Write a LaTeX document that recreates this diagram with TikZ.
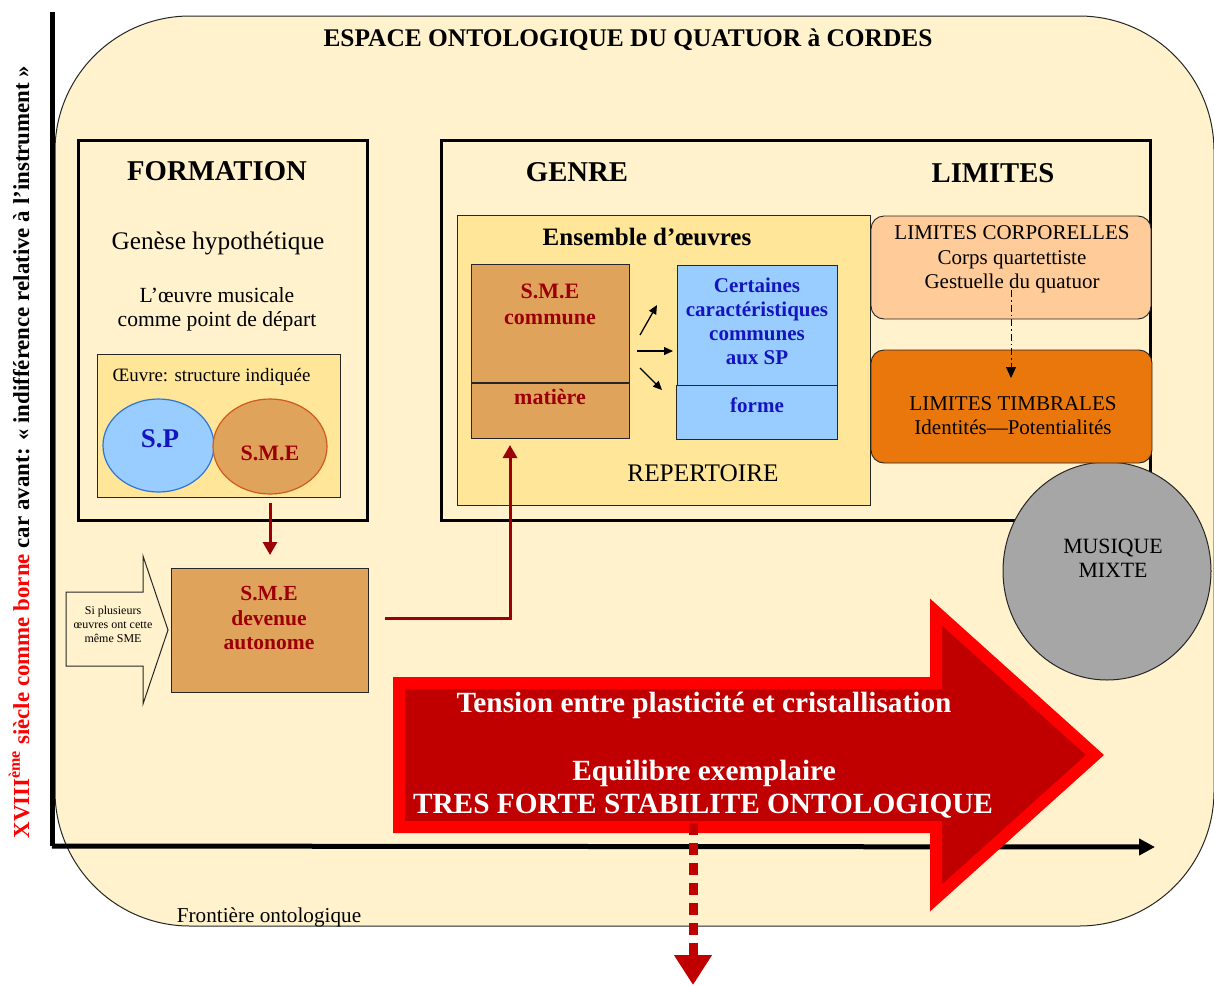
\documentclass[tikz,border=0pt]{standalone}
\usepackage{fontspec}
\setmainfont{Liberation Serif}
\usetikzlibrary{arrows.meta,calc,shapes.geometric}
\definecolor{cream}{HTML}{FFF2CC}
\definecolor{lyellow}{HTML}{FFE699}
\definecolor{tan}{HTML}{E0A35B}
\definecolor{dred}{HTML}{9C0006}
\definecolor{lblue}{HTML}{99CCFF}
\definecolor{tblue}{HTML}{1515C0}
\definecolor{peach}{HTML}{FFCC99}
\definecolor{orng}{HTML}{E9770B}
\definecolor{mgray}{HTML}{A6A6A6}
\definecolor{bred}{HTML}{FF0000}
\definecolor{cred}{HTML}{C00000}
\definecolor{ellblue}{HTML}{2E75D6}
\definecolor{ellred}{HTML}{D05A1E}
\newcommand{\fsz}[2]{\fontsize{#1}{#2}\selectfont}
\begin{document}
\begin{tikzpicture}[x=1pt,y=-1pt,
  box/.style={draw=black!85, line width=0.9pt, anchor=north west, inner sep=0pt, outer sep=0pt},
  bigbox/.style={draw=black, line width=3pt, anchor=north west, inner sep=0pt, outer sep=0pt},
  lbl/.style={inner sep=0pt, anchor=base},
  ttl/.style={lbl, font=\bfseries\fsz{28.7}{32}},
  reg/.style={lbl, font=\fsz{21}{24}},
  redb/.style={lbl, font=\bfseries\fsz{22}{26}, text=dred},
  blueb/.style={lbl, font=\bfseries\fsz{21}{24}, text=tblue},
  whiteb/.style={lbl, font=\bfseries\fsz{29.3}{32}, text=white},
  darrow/.style={draw=dred, line width=3pt, -{Triangle[length=13pt,width=14pt]}},
  smallarrow/.style={draw=black, line width=1.3pt, -{Triangle[length=9pt,width=8pt]}},
  axis/.style={draw=black, line width=5pt}
]
\useasboundingbox (0,0) rectangle (1214,985);

% background space
\node[box, fill=cream, draw=black!85, line width=1pt, rounded corners=135pt,
      minimum width=1159pt, minimum height=910pt] (espace) at (55,16) {};

% axes
\coordinate (ytop) at (52,12);
\coordinate (origin) at (52,846);
\coordinate (xend) at (1155,847);
\draw[axis] (ytop) -- (origin);
\draw[axis, -{Triangle[length=16pt,width=16pt]}] (origin) -- (xend);

% title
\node[lbl, font=\bfseries\fsz{25.4}{28}] (title) at (628,46) {ESPACE ONTOLOGIQUE DU QUATUOR à CORDES};

% vertical side text
\node[lbl, rotate=90, font=\bfseries\fsz{22.9}{26}] (side) at (29,452)
  {\textcolor{bred}{XVIII\textsuperscript{ème} siècle comme borne} car avant: « indifférence relative à l’instrument »};

% FORMATION
\node[bigbox, minimum width=289pt, minimum height=380pt] (formation) at (78,140) {};
\node[ttl] (formtitle) at (217,180) {FORMATION};
\node[lbl, font=\fsz{25.3}{28}] (genese) at (218,249) {Genèse hypothétique};
\node[lbl, font=\fsz{21.6}{24}] (point1) at (217,302) {L’œuvre musicale};
\node[lbl, font=\fsz{21.6}{24}] (point2) at (217,326) {comme point de départ};
\node[box, fill=lyellow, minimum width=243pt, minimum height=143pt] (oeuvre) at (97,354) {};
\node[lbl, font=\fsz{18.9}{22}] (oeuvretxt) at (211.5,381) {Œuvre: structure indiquée};
\node[ellipse, draw=ellblue, line width=1.2pt, fill=lblue, minimum width=111pt, minimum height=93pt, inner sep=0pt] (sp) at (158.5,445.5) {};
\node[ellipse, draw=ellred, line width=1.2pt, fill=tan, minimum width=114pt, minimum height=95pt, inner sep=0pt] (smeell) at (270,446.5) {};
\node[lbl, font=\bfseries\fsz{27}{30}, text=tblue] (sptxt) at (160,447) {S.P};
\node[redb] (smetxt) at (270,460) {S.M.E};

% S.M.E devenue autonome
\node[box, fill=tan, minimum width=197pt, minimum height=124pt] (autonome) at (171,568) {};
\node[redb, font=\bfseries\fsz{21.5}{24}] (aut1) at (269,600) {S.M.E};
\node[redb, font=\bfseries\fsz{21.5}{24}] (aut2) at (269,625) {devenue};
\node[redb, font=\bfseries\fsz{21.5}{24}] (aut3) at (269,649) {autonome};
\draw[darrow] ([yshift=-6pt]oeuvre.south -| smeell.south) -- ([yshift=13pt]autonome.north -| smeell.south);

% "Si plusieurs" block arrow
\draw[draw=black!85, line width=1pt, fill=cream]
  (66,592) -- (143,592) -- (143,556) -- (168,630) -- (143,704) -- (143,666) -- (66,666) -- cycle;
\node[lbl, font=\fsz{12}{14}] (si1) at (113,614) {Si plusieurs};
\node[lbl, font=\fsz{12}{14}] (si2) at (113,628) {œuvres ont cette};
\node[lbl, font=\fsz{12}{14}] (si3) at (113,642) {même SME};

% GENRE / LIMITES
\node[bigbox, minimum width=709pt, minimum height=380pt] (genre) at (441,140) {};
\node[ttl] (genretitle) at (577,181) {GENRE};
\node[ttl] (limtitle) at (993,182) {LIMITES};
\node[box, fill=lyellow, minimum width=413pt, minimum height=290pt] (ensemble) at (457,215) {};
\node[lbl, font=\bfseries\fsz{25}{28}] (enstxt) at (647,245) {Ensemble d’œuvres};
\node[lbl, font=\fsz{25.3}{28}] (repert) at (703,481) {REPERTOIRE};
\node[box, fill=tan, minimum width=158pt, minimum height=118pt] (smec) at (471,264) {};
\node[box, fill=tan, minimum width=158pt, minimum height=55pt] (matiere) at (471,383) {};
\node[redb] (smec1) at (550,298) {S.M.E};
\node[redb] (smec2) at (550,324) {commune};
\node[redb] (mattxt) at (550,404) {matière};
\node[box, fill=lblue, minimum width=160pt, minimum height=120pt] (cert) at (677,265) {};
\node[box, fill=lblue, minimum width=161pt, minimum height=54pt] (forme) at (676,385) {};
\node[blueb] (c1) at (757,292) {Certaines};
\node[blueb] (c2) at (757,316) {caractéristiques};
\node[blueb] (c3) at (757,340) {communes};
\node[blueb] (c4) at (757,364) {aux SP};
\node[blueb] (formetxt) at (757,412) {forme};
\draw[smallarrow] ([xshift=11pt,yshift=-12pt]smec.east) -- ([xshift=-20pt,yshift=20pt]cert.west);
\draw[smallarrow] ([xshift=8pt,yshift=-28pt]smec.east) -- ([xshift=-4pt,yshift=-26pt]cert.west);
\draw[smallarrow] ([xshift=11pt,yshift=-45pt]smec.east) -- ([xshift=-15pt,yshift=-65pt]cert.west);
\draw[darrow] ([xshift=17pt,yshift=12pt]autonome.east) -| ([xshift=-40pt,yshift=-7pt]matiere.south);

% MUSIQUE MIXTE
\node[ellipse, draw=black!85, line width=1pt, fill=mgray, minimum width=208pt, minimum height=218pt, inner sep=0pt] (mixte) at (1107,571) {};
\node[lbl, font=\fsz{21.8}{24}] (mix1) at (1113,553) {MUSIQUE};
\node[lbl, font=\fsz{21.8}{24}] (mix2) at (1113,577) {MIXTE};

% LIMITES boxes
\node[box, fill=peach, rounded corners=13pt, minimum width=280pt, minimum height=103pt] (lc) at (871,216) {};
\node[box, fill=orng, rounded corners=13pt, minimum width=281pt, minimum height=113pt] (lt) at (871,350) {};
\node[reg] (lc1) at (1012,239) {LIMITES CORPORELLES};
\node[reg] (lc2) at (1012,264) {Corps quartettiste};
\node[reg] (lc3) at (1012,288) {Gestuelle du quatuor};
\node[reg] (lt1) at (1013,410) {LIMITES TIMBRALES};
\node[reg] (lt2) at (1013,434) {Identités—Potentialités};
\draw[line width=1pt, dash pattern=on 7pt off 3pt on 1.5pt off 3pt, -{Triangle[length=11pt,width=10pt]}]
  ([yshift=-74pt]lc.north) -- ([yshift=-28pt]lt.north -| lc.north);

% big red arrow
\draw[draw=bred, fill=cred, line width=12pt, miter limit=10]
  (399,683) -- (936,683) -- (936,612) -- (1095,755) -- (936,898) -- (936,827) -- (399,827) -- cycle;
\node[whiteb] (tension) at (704,712) {Tension entre plasticité et cristallisation};
\node[whiteb] (equil) at (704,780) {Equilibre exemplaire};
\node[whiteb] (stab) at (703,813) {TRES FORTE STABILITE ONTOLOGIQUE};
\coordinate (down) at (693,985);
\draw[draw=cred, line width=9pt, dash pattern=on 12pt off 8pt, -{Triangle[length=30pt,width=36pt]}]
  ([yshift=-10pt]stab.base -| down) -- (down);

% frontier label
\node[lbl, font=\fsz{21.2}{24}] (frontiere) at (269,922) {Frontière ontologique};
\end{tikzpicture}
\end{document}
